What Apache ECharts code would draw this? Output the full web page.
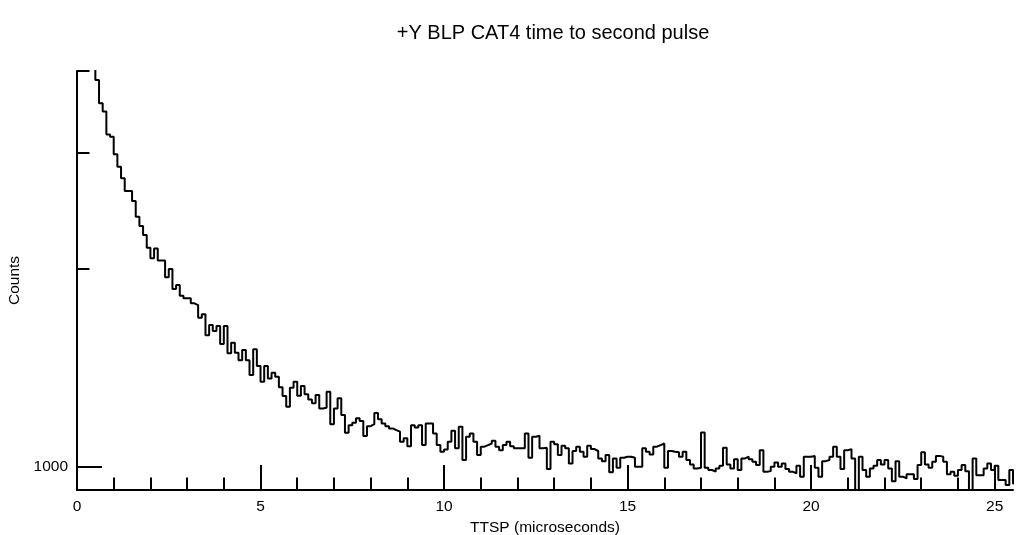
<!DOCTYPE html>
<html><head><meta charset="utf-8">
<script src="https://cdn.jsdelivr.net/npm/echarts@6/dist/echarts.min.js"></script>
<style>html,body{margin:0;padding:0;background:#fff}#c{width:1016px;height:535px}</style>
</head><body><div id="c"></div>
<script>
const titleText = '+Y BLP CAT4 time to second pulse';
const xName = 'TTSP (microseconds)';
const yName = 'Counts';
const binStart = 0.4;
const binWidth = 0.1;
// counts per 0.1 us bin
const countsA = [5000, 3877, 3573, 3470, 3204, 3178, 2988, 2861, 2747, 2628, 2628, 2537, 2402, 2325, 2253, 2155,
  2077, 2150, 2060, 2060, 1943, 2000, 1865, 1891, 1822, 1805, 1805, 1774, 1763, 1687, 1707, 1587,
  1644, 1610, 1638, 1538, 1638, 1489, 1545, 1492, 1454, 1506, 1454, 1380, 1510, 1424];
const countsB = [1348, 1424, 1364, 1391, 1372, 1322, 1282, 1235, 1320, 1348, 1284, 1328, 1291, 1267, 1250, 1287,
  1228, 1231, 1302, 1162, 1228, 1272, 1200, 1128, 1158, 1168, 1186, 1175, 1115, 1154, 1162, 1209];
const countsC = [1182, 1165, 1154, 1145, 1138, 1132, 1093, 1106, 1076, 1158, 1149, 1158, 1080, 1165, 1165, 1125,
  1080, 1055, 1064, 1093, 1136, 1068, 1152, 1025, 1112, 1125, 1093, 1043, 1074, 1080, 1086, 1097,
  1074, 1061, 1080, 1093, 1076, 1068, 1068, 1068];
const countsD = [1125, 1033, 1112, 1116, 1068, 1070, 993, 1093, 1083, 1043, 1078, 1068, 1013, 1058, 1074, 1055,
  1037, 1078, 1065, 1058, 1031, 1021, 1043, 982, 1031, 998, 1033, 1037, 1037, 1033, 1001, 1001, 1068,
  1055, 1045, 1074, 1080, 1086, 998, 1058, 1055, 1053, 1037, 1055, 1025, 1009, 995, 998, 1129,
  998, 990, 984, 995, 1005, 1070, 1009, 995, 1028, 990, 1031, 1037, 1028, 1019, 1007, 1061, 984];
const countsE = [986, 1001, 1016, 1001, 1013, 993, 984, 978, 1005, 967, 1037, 1037, 1040, 998, 967, 1021,
  1025, 1037, 1074, 1037, 993, 1061, 1065, 1031, 900, 1037, 990, 967, 995, 1005, 1025, 1009,
  1025, 995, 952, 1021, 967, 961, 975, 975, 959, 1007, 1053, 1009, 998, 1019, 1040, 1037,
  1019, 975, 984, 970, 990, 1007, 986, 900, 1031, 972, 972, 995, 1013, 990, 1005, 956,
  956, 939, 990, 944];
const xMajorTicks = [0, 5, 10, 15, 20, 25];
const xMinorTicks = [1, 2, 3, 4, 6, 7, 8, 9, 11, 12, 13, 14, 16, 17, 18, 19, 21, 22, 23, 24];
const yMajorTicks = [1000];
const yMinorTicks = [2000, 3000, 4000];

const counts = countsA.concat(countsB, countsC, countsD, countsE);
const data = counts.map((c, i) => [Math.round((binStart + i * binWidth) * 100) / 100, c]);
data.push([Math.round((binStart + counts.length * binWidth) * 100) / 100, counts[counts.length - 1]]);

const font = "'Liberation Sans', Arial, Helvetica, sans-serif";
const black = '#000';
const txt = { fontFamily: font, fontSize: 15.5, color: black };

const chart = echarts.init(document.getElementById('c'), null, { renderer: 'canvas' });
chart.setOption({
  animation: false,
  backgroundColor: '#fff',
  title: {
    text: titleText, left: 548, top: 18, textAlign: 'center',
    textStyle: { fontFamily: font, fontSize: 20, fontWeight: 'normal', color: black }
  },
  grid: { left: 77, right: 3, top: 71, bottom: 45, containLabel: false, outerBoundsMode: 'none' },
  xAxis: [{
    type: 'value', min: 0, max: 25.5, position: 'bottom',
    name: xName, nameLocation: 'middle', nameGap: 22, nameTextStyle: txt,
    axisLine: { show: true, onZero: false, lineStyle: { color: black, width: 2 } },
    axisTick: { show: true, inside: true, length: 25, customValues: xMajorTicks, lineStyle: { color: black, width: 2 } },
    axisLabel: { customValues: xMajorTicks, margin: 9, fontFamily: font, fontSize: 15.5, color: black },
    splitLine: { show: false }
  }, {
    type: 'value', min: 0, max: 25.5, position: 'bottom',
    axisLine: { show: false, onZero: false },
    axisTick: { show: true, inside: true, length: 12.5, customValues: xMinorTicks, lineStyle: { color: black, width: 2 } },
    axisLabel: { show: false },
    splitLine: { show: false }
  }],
  yAxis: [{
    type: 'log', logBase: 10, min: 923, max: 4000, position: 'left',
    name: yName, nameLocation: 'middle', nameGap: 44, nameTextStyle: txt,
    axisLine: { show: true, onZero: false, lineStyle: { color: black, width: 2 } },
    axisTick: { show: true, inside: true, length: 25, customValues: yMajorTicks, lineStyle: { color: black, width: 2 } },
    axisLabel: { customValues: yMajorTicks, margin: 9, fontFamily: font, fontSize: 15.5, color: black,
      formatter: v => String(Math.round(v)) },
    splitLine: { show: false }
  }, {
    type: 'log', logBase: 10, min: 923, max: 4000, position: 'left',
    axisLine: { show: false, onZero: false },
    axisTick: { show: true, inside: true, length: 12.5, customValues: yMinorTicks, lineStyle: { color: black, width: 2 } },
    axisLabel: { show: false },
    splitLine: { show: false }
  }],
  series: [{
    type: 'line', step: 'end', data: data, xAxisIndex: 0, yAxisIndex: 0,
    symbol: 'none', showSymbol: false, clip: true, silent: true,
    lineStyle: { color: black, width: 2 }
  }]
});
</script>
</body></html>
